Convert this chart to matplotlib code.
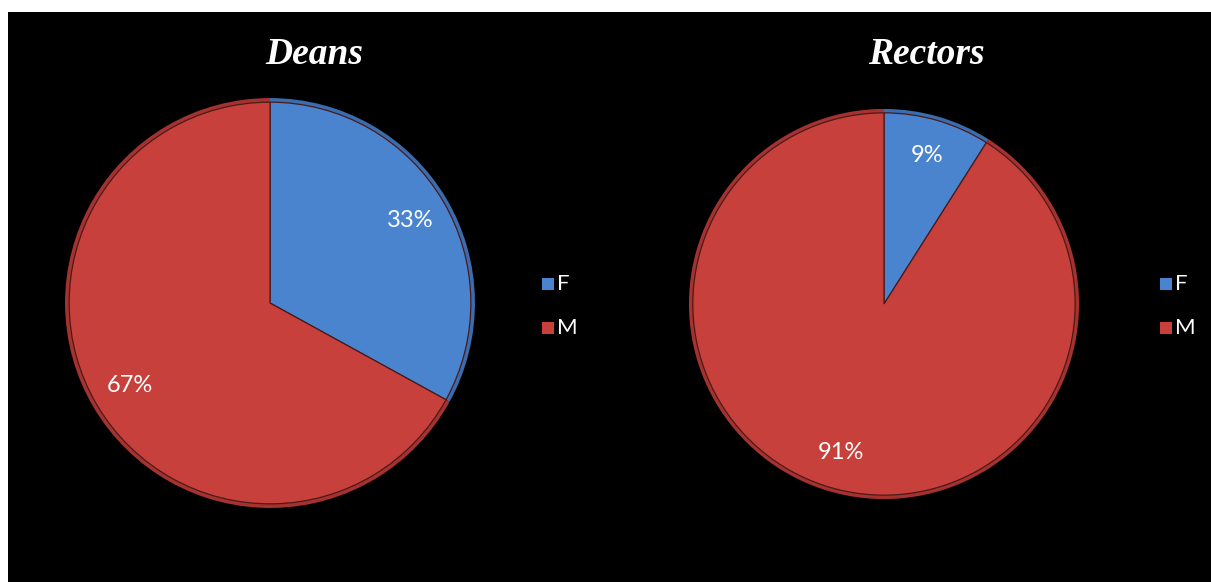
import matplotlib
matplotlib.use('Agg')
from matplotlib import pyplot as plt
from matplotlib.patches import Rectangle

# --- DATA ---
categories = ['F', 'M']
deans_share = [33, 67]
rectors_share = [9, 91]
chart_titles = ['Deans', 'Rectors']

BLUE = '#4a84cf'
RED = '#c8403c'
COLORS = [BLUE, RED]
RIM_COLORS = ['#3a6cae', '#a5322f']

W, H = 1211, 582
fig = plt.figure(figsize=(W / 100, H / 100), dpi=100, facecolor='white')

# black panel inside a thin white margin
fig.patches.append(Rectangle((8 / W, 0), 1 - 8 / W, 1 - 12 / H, transform=fig.transFigure,
                             facecolor='black', edgecolor='none', zorder=-10))


def px_axes(cx, cy, r):
    # square axes centred on (cx, cy) in pixel coords (y from top)
    return fig.add_axes([(cx - r) / W, 1 - (cy + r) / H, 2 * r / W, 2 * r / H])


def draw_pie(ax, values):
    ax.set_facecolor('none')
    # slightly darker rim gives a soft bevel look
    ax.pie(values, colors=RIM_COLORS, startangle=90, counterclock=False,
           radius=1.0, wedgeprops=dict(linewidth=0))
    ax.pie(values, colors=COLORS, startangle=90, counterclock=False, radius=0.98,
           autopct='%d%%', pctdistance=0.81,
           wedgeprops=dict(linewidth=0.9, edgecolor='#4a1a1a'),
           textprops=dict(color='white', fontsize=17, family='Lato'))
    ax.set_xlim(-1.01, 1.01)
    ax.set_ylim(-1.01, 1.01)
    ax.set_aspect('equal')
    ax.axis('off')


def draw_legend(x, y_top):
    for i, (cat, col) in enumerate(zip(categories, COLORS)):
        y = y_top + i * 44
        fig.patches.append(Rectangle(((x - 6) / W, 1 - (y + 6) / H), 12 / W, 12 / H,
                                     transform=fig.transFigure, facecolor=col,
                                     edgecolor='none'))
        fig.text((x + 9) / W, 1 - y / H, cat, color='white', fontsize=16,
                 family='Lato', va='center', ha='left')


ax1 = px_axes(270, 303, 207)
draw_pie(ax1, deans_share)
ax2 = px_axes(884, 304, 197)
draw_pie(ax2, rectors_share)

for x, t in zip([314, 926], chart_titles):
    fig.text(x / W, 1 - 55 / H, t, color='white', fontsize=27, family='Liberation Serif',
             style='italic', weight='bold', ha='center', va='center')

draw_legend(548, 284)
draw_legend(1166, 284)

fig.savefig('out.png', dpi=100, facecolor=fig.get_facecolor())
